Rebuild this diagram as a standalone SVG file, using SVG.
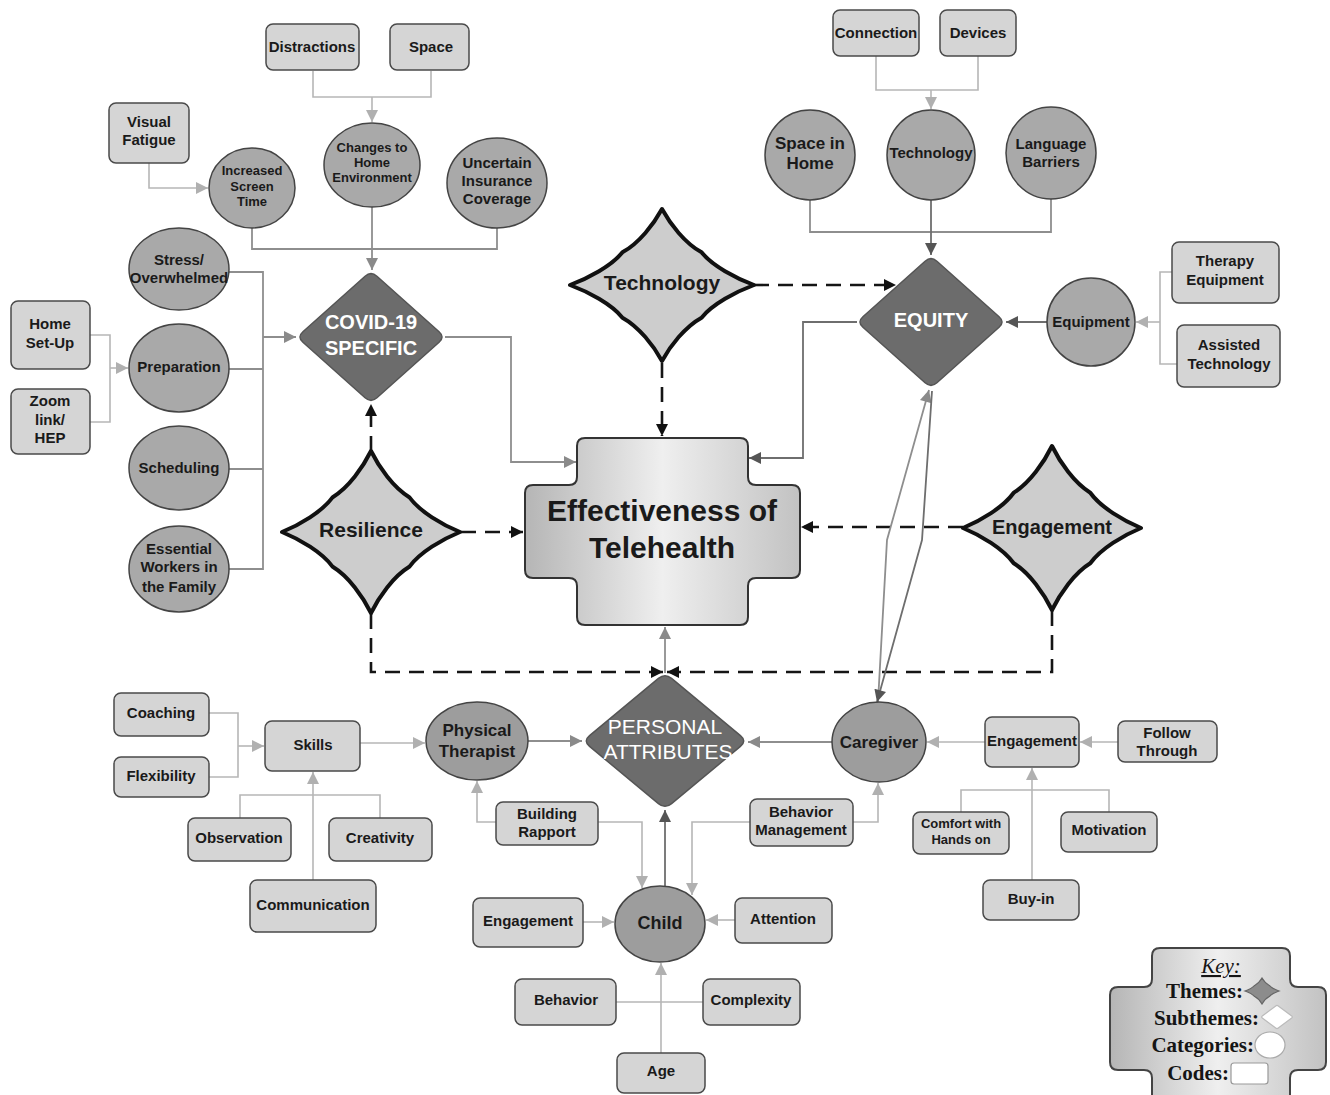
<svg xmlns="http://www.w3.org/2000/svg" width="1330" height="1095" viewBox="0 0 1330 1095">
<style>
text{font-family:"Liberation Sans",Arial,sans-serif;font-weight:bold;fill:#1a1a1a;text-anchor:middle}
.code{fill:#d5d5d5;stroke:#4a4a4a;stroke-width:1.5}
.cat{fill:#a9a9a9;stroke:#444;stroke-width:1.5}
.cat2{fill:#9d9d9d;stroke:#444;stroke-width:1.5}
.theme{fill:#6c6c6c;stroke:#555;stroke-width:1.5}
.sub{fill:#cdcdcd;stroke:#111;stroke-width:4;stroke-linejoin:round}
.wt{fill:#fff}
.f13{font-size:13px}.f15{font-size:15px}.f17{font-size:17px}.f20{font-size:20px}.f21{font-size:21px}
.lt{fill:none;stroke:#b6b6b6;stroke-width:1.6}
.md{fill:none;stroke:#8e8e8e;stroke-width:1.8}
.dk{fill:none;stroke:#6e6e6e;stroke-width:1.8}
.ds{fill:none;stroke:#151515;stroke-width:2.6;stroke-dasharray:15 9}
.key{font-family:"Liberation Serif","Times New Roman",serif;font-size:21px;text-anchor:end;fill:#151515}
</style>
<defs>
<marker id="aL" viewBox="0 0 10 10" refX="10" refY="5" markerWidth="15" markerHeight="12" markerUnits="userSpaceOnUse" orient="auto"><path d="M0,0 L10,5 L0,10 z" fill="#b0b0b0"/></marker>
<marker id="aM" viewBox="0 0 10 10" refX="10" refY="5" markerWidth="15" markerHeight="12" markerUnits="userSpaceOnUse" orient="auto"><path d="M0,0 L10,5 L0,10 z" fill="#8a8a8a"/></marker>
<marker id="aD" viewBox="0 0 10 10" refX="10" refY="5" markerWidth="15" markerHeight="12" markerUnits="userSpaceOnUse" orient="auto"><path d="M0,0 L10,5 L0,10 z" fill="#555"/></marker>
<marker id="aB" viewBox="0 0 10 10" refX="10" refY="5" markerWidth="15" markerHeight="12" markerUnits="userSpaceOnUse" orient="auto"><path d="M0,0 L10,5 L0,10 z" fill="#111"/></marker>
<linearGradient id="gEff" x1="0" y1="0" x2="1" y2="0">
<stop offset="0" stop-color="#b5b5b5"/><stop offset="0.5" stop-color="#efefef"/><stop offset="1" stop-color="#c2c2c2"/>
</linearGradient>
<path id="star" d="M0,-100 C9,-80 25,-55 43,-43 C55,-25 80,-9 100,0 C80,9 55,25 43,43 C25,55 9,80 0,100 C-9,80 -25,55 -43,43 C-55,25 -80,9 -100,0 C-80,-9 -55,-25 -43,-43 C-25,-55 -9,-80 0,-100 Z" vector-effect="non-scaling-stroke"/>
<path id="dia" d="M-8,-92 Q0,-100 8,-92 L92,-8 Q100,0 92,8 L8,92 Q0,100 -8,92 L-92,8 Q-100,0 -92,-8 Z" vector-effect="non-scaling-stroke"/>
</defs>

<g id="connectors">
<path class="lt" d="M313,71 V97 H431 V71"/>
<path class="lt" d="M372,97 V122" marker-end="url(#aL)"/>
<path class="lt" d="M149,163 V188 H208" marker-end="url(#aL)"/>
<path class="md" d="M252,228 V249 H497 V228"/>
<path class="md" d="M372,207 V270" marker-end="url(#aM)"/>
<path class="md" d="M229,272 H263 V569 H229 M229,369 H263 M229,469 H263"/>
<path class="md" d="M263,337 H296" marker-end="url(#aM)"/>
<path class="lt" d="M90,335 H110 V422 H90"/>
<path class="lt" d="M110,368 H128" marker-end="url(#aL)"/>
<path class="md" d="M445,337 H511 V462 H576" marker-end="url(#aM)"/>
<path class="dk" d="M857,322 H803 V458 H749" marker-end="url(#aD)"/>
<path class="lt" d="M876,56 V90 H978 V56"/>
<path class="lt" d="M931,90 V109" marker-end="url(#aL)"/>
<path class="md" d="M810,200 V232 H1051 V199"/>
<path class="dk" d="M931,200 V255" marker-end="url(#aD)"/>
<path class="dk" d="M1047,322 H1006" marker-end="url(#aD)"/>
<path class="lt" d="M1172,272 H1160 V364 H1177"/>
<path class="lt" d="M1160,322 H1136" marker-end="url(#aL)"/>
<path class="ds" d="M754,285 H896" marker-end="url(#aB)"/>
<path class="ds" d="M662,363 V436" marker-end="url(#aB)"/>
<path class="ds" d="M371,451 V404" marker-end="url(#aB)"/>
<path class="ds" d="M461,532 H523" marker-end="url(#aB)"/>
<path class="ds" d="M963,527 H801" marker-end="url(#aB)"/>
<path class="ds" d="M371,614 V672 H663" marker-end="url(#aB)"/>
<path class="ds" d="M1052,611 V672 H667" marker-end="url(#aB)"/>
<path class="md" d="M665,673 V627" marker-end="url(#aM)"/>
<path class="md" d="M528,741 H582" marker-end="url(#aM)"/>
<path class="lt" d="M360,743 H425" marker-end="url(#aL)"/>
<path class="lt" d="M209,713 H238 V777 H209"/>
<path class="lt" d="M238,746 H264" marker-end="url(#aL)"/>
<path class="lt" d="M240,818 V795 H380 V818"/>
<path class="lt" d="M313,880 V772" marker-end="url(#aL)"/>
<path class="lt" d="M496,822 H477 V781" marker-end="url(#aL)"/>
<path class="lt" d="M598,822 H642 V888" marker-end="url(#aL)"/>
<path class="lt" d="M750,822 H692 V895" marker-end="url(#aL)"/>
<path class="lt" d="M853,822 H878 V783" marker-end="url(#aL)"/>
<path class="dk" d="M665,886 V810" marker-end="url(#aD)"/>
<path class="lt" d="M583,922 H614" marker-end="url(#aL)"/>
<path class="lt" d="M735,920 H706" marker-end="url(#aL)"/>
<path class="lt" d="M616,1002 H703"/>
<path class="lt" d="M661,1053 V963" marker-end="url(#aL)"/>
<path class="md" d="M832,742 H748" marker-end="url(#aM)"/>
<path class="lt" d="M985,742 H927" marker-end="url(#aL)"/>
<path class="lt" d="M1118,742 H1080" marker-end="url(#aL)"/>
<path class="lt" d="M961,812 V790 H1109 V812"/>
<path class="lt" d="M1032,880 V768" marker-end="url(#aL)"/>
<path class="md" d="M878,702 L887,540 L929,390" marker-end="url(#aM)"/>
<path class="dk" d="M932,391 L922,540 L877,702" marker-end="url(#aD)"/>
</g>

<g id="n-distractions"><rect class="code" x="266" y="24" width="93" height="46" rx="7"/><text class="f15" x="312" y="52">Distractions</text></g>
<g id="n-space"><rect class="code" x="390" y="24" width="79" height="46" rx="7"/><text class="f15" x="431" y="52">Space</text></g>
<g id="n-visual-fatigue"><rect class="code" x="109" y="103" width="80" height="60" rx="7"/><text class="f15" x="149" y="127">Visual</text><text class="f15" x="149" y="145">Fatigue</text></g>
<g id="n-screen-time"><ellipse class="cat" cx="252" cy="188" rx="43" ry="40"/><text class="f13" x="252" y="175">Increased</text><text class="f13" x="252" y="191">Screen</text><text class="f13" x="252" y="206">Time</text></g>
<g id="n-home-env"><ellipse class="cat" cx="372" cy="165" rx="48" ry="42"/><text class="f13" x="372" y="152">Changes to</text><text class="f13" x="372" y="167">Home</text><text class="f13" x="372" y="182">Environment</text></g>
<g id="n-insurance"><ellipse class="cat" cx="497" cy="183" rx="50" ry="45"/><text class="f15" x="497" y="168">Uncertain</text><text class="f15" x="497" y="186">Insurance</text><text class="f15" x="497" y="204">Coverage</text></g>
<g id="n-stress"><ellipse class="cat" cx="179" cy="269" rx="50" ry="41"/><text class="f15" x="179" y="265">Stress/</text><text class="f15" x="179" y="283">Overwhelmed</text></g>
<g id="n-preparation"><ellipse class="cat" cx="179" cy="368" rx="50" ry="44"/><text class="f15" x="179" y="372">Preparation</text></g>
<g id="n-scheduling"><ellipse class="cat" cx="179" cy="468" rx="50" ry="42"/><text class="f15" x="179" y="473">Scheduling</text></g>
<g id="n-essential"><ellipse class="cat" cx="179" cy="569" rx="50" ry="43"/><text class="f15" x="179" y="554">Essential</text><text class="f15" x="179" y="572">Workers in</text><text class="f15" x="179" y="592">the Family</text></g>
<g id="n-home-setup"><rect class="code" x="11" y="301" width="79" height="68" rx="7"/><text class="f15" x="50" y="329">Home</text><text class="f15" x="50" y="348">Set-Up</text></g>
<g id="n-zoom"><rect class="code" x="11" y="389" width="79" height="65" rx="7"/><text class="f15" x="50" y="406">Zoom</text><text class="f15" x="50" y="425">link/</text><text class="f15" x="50" y="443">HEP</text></g>
<g id="n-covid"><use href="#dia" class="theme" transform="translate(371,337) scale(0.74,0.66)"/><text class="f20 wt" x="371" y="329">COVID-19</text><text class="f20 wt" x="371" y="355">SPECIFIC</text></g>

<g id="n-connection"><rect class="code" x="833" y="10" width="86" height="46" rx="7"/><text class="f15" x="876" y="38">Connection</text></g>
<g id="n-devices"><rect class="code" x="940" y="10" width="76" height="46" rx="7"/><text class="f15" x="978" y="38">Devices</text></g>
<g id="n-space-home"><ellipse class="cat" cx="810" cy="155" rx="45" ry="45"/><text class="f17" x="810" y="149">Space in</text><text class="f17" x="810" y="169">Home</text></g>
<g id="n-technology-cat"><ellipse class="cat" cx="931" cy="155" rx="44" ry="45"/><text class="f15" x="931" y="158">Technology</text></g>
<g id="n-language"><ellipse class="cat" cx="1051" cy="153" rx="45" ry="46"/><text class="f15" x="1051" y="149">Language</text><text class="f15" x="1051" y="167">Barriers</text></g>
<g id="n-equity"><use href="#dia" class="theme" transform="translate(931,322) scale(0.74,0.66)"/><text class="f20 wt" x="931" y="327">EQUITY</text></g>
<g id="n-equipment"><ellipse class="cat" cx="1091" cy="322" rx="44" ry="44"/><text class="f15" x="1091" y="327">Equipment</text></g>
<g id="n-therapy-eq"><rect class="code" x="1172" y="242" width="107" height="61" rx="7"/><text class="f15" x="1225" y="266">Therapy</text><text class="f15" x="1225" y="285">Equipment</text></g>
<g id="n-assisted"><rect class="code" x="1177" y="325" width="103" height="62" rx="7"/><text class="f15" x="1229" y="350">Assisted</text><text class="f15" x="1229" y="369">Technology</text></g>

<g id="n-technology"><use href="#star" class="sub" transform="translate(662,285) scale(0.92,0.76)"/><text class="f21" x="662" y="290">Technology</text></g>
<g id="n-resilience"><use href="#star" class="sub" transform="translate(371,532) scale(0.89,0.81)"/><text class="f21" x="371" y="537">Resilience</text></g>
<g id="n-engagement-sub"><use href="#star" class="sub" transform="translate(1052,528) scale(0.89,0.82)"/><text class="f20" x="1052" y="534">Engagement</text></g>

<g id="n-effectiveness"><path d="M585,438 H740 Q748,438 748,446 V477 Q748,485 756,485 H792 Q800,485 800,493 V570 Q800,578 792,578 H756 Q748,578 748,586 V617 Q748,625 740,625 H585 Q577,625 577,617 V586 Q577,578 569,578 H533 Q525,578 525,570 V493 Q525,485 533,485 H569 Q577,485 577,477 V446 Q577,438 585,438 Z" fill="url(#gEff)" stroke="#333" stroke-width="2"/><text x="662" y="521" style="font-size:30px">Effectiveness of</text><text x="662" y="558" style="font-size:30px">Telehealth</text></g>

<g id="n-personal"><use href="#dia" class="theme" transform="translate(665,741) scale(0.82,0.68)"/><text class="f21 wt" x="665" y="734" style="font-weight:normal">PERSONAL</text><text class="f21 wt" x="668" y="759" style="font-weight:normal">ATTRIBUTES</text></g>

<g id="n-coaching"><rect class="code" x="114" y="693" width="95" height="43" rx="7"/><text class="f15" x="161" y="718">Coaching</text></g>
<g id="n-flexibility"><rect class="code" x="114" y="757" width="95" height="40" rx="7"/><text class="f15" x="161" y="781">Flexibility</text></g>
<g id="n-skills"><rect class="code" x="265" y="721" width="95" height="50" rx="7"/><text class="f15" x="313" y="750">Skills</text></g>
<g id="n-observation"><rect class="code" x="188" y="818" width="103" height="43" rx="7"/><text class="f15" x="239" y="843">Observation</text></g>
<g id="n-creativity"><rect class="code" x="329" y="818" width="103" height="43" rx="7"/><text class="f15" x="380" y="843">Creativity</text></g>
<g id="n-communication"><rect class="code" x="250" y="880" width="126" height="52" rx="7"/><text class="f15" x="313" y="910">Communication</text></g>
<g id="n-pt"><ellipse class="cat2" cx="477" cy="741" rx="51" ry="39"/><text class="f17" x="477" y="736">Physical</text><text class="f17" x="477" y="757">Therapist</text></g>
<g id="n-rapport"><rect class="code" x="496" y="802" width="102" height="43" rx="7"/><text class="f15" x="547" y="819">Building</text><text class="f15" x="547" y="837">Rapport</text></g>
<g id="n-behavior-mgmt"><rect class="code" x="750" y="799" width="103" height="47" rx="7"/><text class="f15" x="801" y="817">Behavior</text><text class="f15" x="801" y="835">Management</text></g>
<g id="n-child"><ellipse class="cat2" cx="660" cy="924" rx="45" ry="38"/><text x="660" y="929" style="font-size:18px">Child</text></g>
<g id="n-engagement-child"><rect class="code" x="473" y="898" width="110" height="49" rx="7"/><text class="f15" x="528" y="926">Engagement</text></g>
<g id="n-attention"><rect class="code" x="735" y="898" width="97" height="45" rx="7"/><text class="f15" x="783" y="924">Attention</text></g>
<g id="n-behavior"><rect class="code" x="515" y="979" width="101" height="46" rx="7"/><text class="f15" x="566" y="1005">Behavior</text></g>
<g id="n-complexity"><rect class="code" x="703" y="979" width="97" height="46" rx="7"/><text class="f15" x="751" y="1005">Complexity</text></g>
<g id="n-age"><rect class="code" x="617" y="1053" width="88" height="40" rx="7"/><text class="f15" x="661" y="1076">Age</text></g>
<g id="n-caregiver"><ellipse class="cat2" cx="879" cy="742" rx="47" ry="40"/><text class="f17" x="879" y="748">Caregiver</text></g>
<g id="n-engagement-cg"><rect class="code" x="985" y="717" width="94" height="50" rx="7"/><text class="f15" x="1032" y="746">Engagement</text></g>
<g id="n-follow"><rect class="code" x="1118" y="721" width="99" height="41" rx="7"/><text class="f15" x="1167" y="738">Follow</text><text class="f15" x="1167" y="756">Through</text></g>
<g id="n-comfort"><rect class="code" x="913" y="812" width="96" height="42" rx="7"/><text class="f13" x="961" y="828">Comfort with</text><text class="f13" x="961" y="844">Hands on</text></g>
<g id="n-motivation"><rect class="code" x="1061" y="812" width="96" height="40" rx="7"/><text class="f15" x="1109" y="835">Motivation</text></g>
<g id="n-buyin"><rect class="code" x="983" y="880" width="96" height="40" rx="7"/><text class="f15" x="1031" y="904">Buy-in</text></g>

<g id="key">
<path d="M1160,948 H1282 Q1290,948 1290,956 V979 Q1290,987 1298,987 H1318 Q1326,987 1326,995 V1062 Q1326,1070 1318,1070 H1298 Q1290,1070 1290,1078 V1110 H1152 V1078 Q1152,1070 1144,1070 H1118 Q1110,1070 1110,1062 V995 Q1110,987 1118,987 H1144 Q1152,987 1152,979 V956 Q1152,948 1160,948 Z" fill="url(#gEff)" stroke="#444" stroke-width="2"/>
<text class="key" x="1221" y="973" style="text-anchor:middle;font-style:italic;font-weight:normal;text-decoration:underline">Key:</text>
<text class="key" x="1243" y="998">Themes:</text>
<text class="key" x="1259" y="1025">Subthemes:</text>
<text class="key" x="1254" y="1052">Categories:</text>
<text class="key" x="1229" y="1080">Codes:</text>
<use href="#star" transform="translate(1262,991) scale(0.17,0.13)" fill="#8c8c8c" stroke="#666" stroke-width="1.2"/>
<use href="#dia" transform="translate(1277,1017) scale(0.16,0.12)" fill="#fff" stroke="#bbb" stroke-width="1.2"/>
<ellipse cx="1270" cy="1045" rx="15" ry="13" fill="#fff" stroke="#aaa" stroke-width="1.2"/>
<rect x="1231" y="1063" width="37" height="21" rx="3" fill="#fff" stroke="#999" stroke-width="1.2"/>
</g>
</svg>
